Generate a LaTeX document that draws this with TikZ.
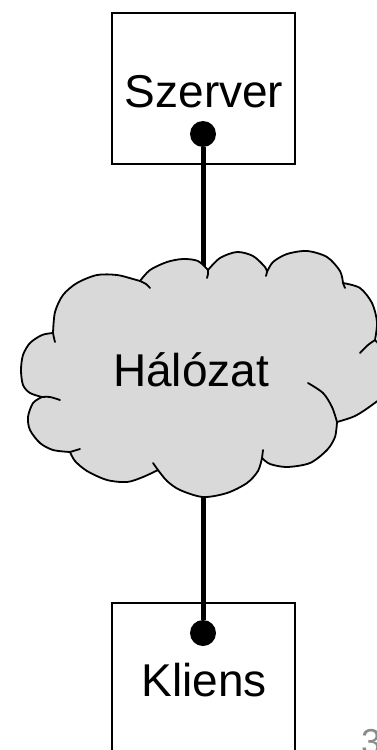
\documentclass[tikz,border=0pt]{standalone}
\usepackage{fontspec}
\setmainfont{Liberation Sans}
\definecolor{cloudgray}{HTML}{D9D9D9}
\definecolor{pagegray}{HTML}{8A8A8A}
\begin{document}
\begin{tikzpicture}[x=1pt,y=-1pt,
  boxst/.style={draw=black, line width=2pt, minimum width=183pt, inner sep=0pt},
  dotst/.style={circle, fill=black, minimum size=26pt, inner sep=0pt},
  linkst/.style={line width=5pt},
  cloudst/.style={draw=black, fill=cloudgray, line width=1.8pt, line join=round},
  stubst/.style={draw=black, line width=1.8pt, line cap=round},
  labelst/.style={font=\fontsize{46}{55}\selectfont, inner sep=0pt, anchor=base}]
\useasboundingbox (0,0) rectangle (377,750);
% boxes
\node[boxst, minimum height=151pt] (server) at (203.5,88.5) {};
\node[boxst, minimum height=170pt] (client) at (203.5,688) {};
% dots
\node[dotst] (sdot) at (203,134) {};
\node[dotst] (cdot) at (203,633) {};
% connector
\draw[linkst] (sdot) -- (cdot);
% cloud
\path[cloudst]
  plot[smooth] coordinates {(53,333) (55,312) (63,295) (77,283) (97,275) (117,275) (133,279) (140,281)}
  -- plot[smooth] coordinates {(140,281) (150,270) (167,262) (183,259) (198,261) (208,270)}
  -- plot[smooth] coordinates {(208,270) (220,258) (237,252) (253,256) (265,267) (267,272)}
  -- plot[smooth] coordinates {(267,272) (273,262) (287,254) (307,251) (327,257) (340,271) (343,283)}
  -- plot[smooth] coordinates {(343,283) (360,288) (372,303) (377,322) (375,340)}
  -- plot[smooth] coordinates {(375,340) (387,355) (392,375) (386,393) (372,405) (355,416) (337,422)}
  -- plot[smooth] coordinates {(337,422) (335,437) (327,450) (310,463) (287,467) (270,464) (262,458)}
  -- plot[smooth] coordinates {(262,458) (258,471) (247,483) (227,493) (203,497) (180,490) (167,481) (158,470)}
  -- plot[smooth] coordinates {(158,470) (143,477) (127,482) (107,480) (87,471) (75,461) (70,452)}
  -- plot[smooth] coordinates {(70,452) (53,450) (40,443) (30,430) (28,417) (33,403) (42,397)}
  -- plot[smooth] coordinates {(42,397) (30,393) (23,385) (21,370) (23,355) (30,343) (42,335) (53,333)}
  -- cycle;
% inner stubs of the cloud
\draw[stubst] plot[smooth] coordinates {(140,281) (146,284) (150,288)};
\draw[stubst] plot[smooth] coordinates {(208,270) (208,274) (207,278)};
\draw[stubst] plot[smooth] coordinates {(267,272) (266,276)};
\draw[stubst] plot[smooth] coordinates {(343,283) (345,288)};
\draw[stubst] plot[smooth] coordinates {(375,340) (368,345) (360,353)};
\draw[stubst] plot[smooth] coordinates {(337,422) (332,407) (323,393) (308,383)};
\draw[stubst] plot[smooth] coordinates {(262,458) (263,450)};
\draw[stubst] plot[smooth] coordinates {(158,470) (153,463)};
\draw[stubst] plot[smooth] coordinates {(70,452) (80,449)};
\draw[stubst] plot[smooth] coordinates {(42,397) (50,397) (60,400)};
\draw[stubst] plot[smooth] coordinates {(53,333) (54,338) (55,342)};
% labels
\node[labelst] (tserver) at (204,107) {Szerver};
\node[labelst] (tnet) at (191,386) {Hálózat};
\node[labelst] (tclient) at (204,696) {Kliens};
\node[font=\fontsize{36}{42}\selectfont, text=pagegray, inner sep=0pt, anchor=base west] (pnum) at (361,754) {3};
\end{tikzpicture}
\end{document}
